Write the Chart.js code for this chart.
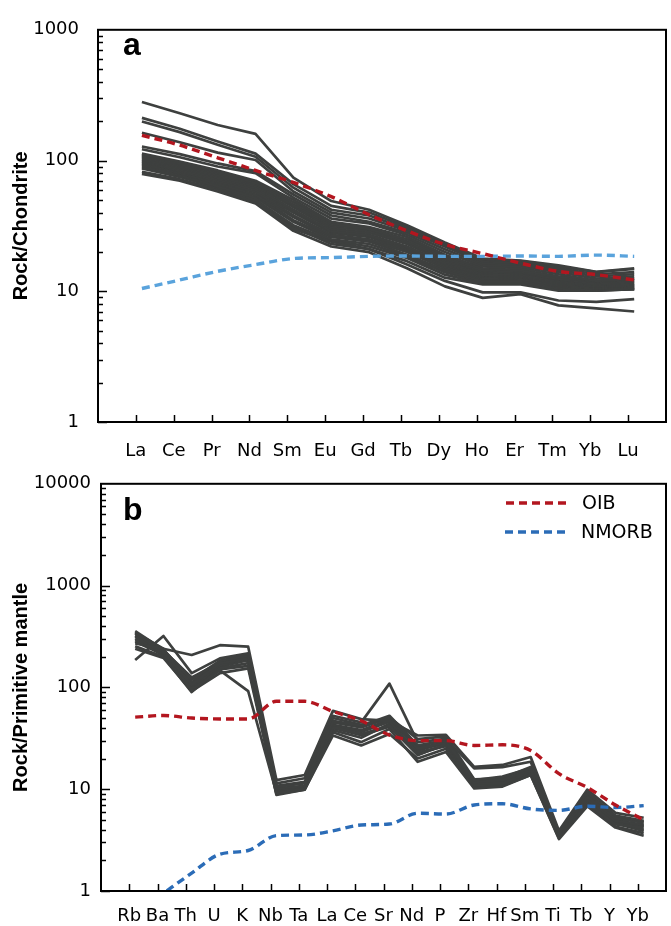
<!DOCTYPE html>
<html><head><meta charset="utf-8">
<script src="https://cdn.jsdelivr.net/npm/chart.js@4/dist/chart.umd.min.js"></script>
<style>
html,body{margin:0;padding:0;background:#fff;}
#wa{position:absolute;left:0;top:0;width:671px;height:463px;}
#wb{position:absolute;left:0;top:463px;width:671px;height:463px;}
</style></head><body>
<div id="wa"><canvas id="ca"></canvas></div>
<div id="wb"><canvas id="cb"></canvas></div>
<script>
// ---------- Panel a: chondrite-normalised REE ----------
const catsA = ['La','Ce','Pr','Nd','Sm','Eu','Gd','Tb','Dy','Ho','Er','Tm','Yb','Lu'];
const yTicksA = [1, 10, 100, 1000];
const oibA   = [156, 131, 105, 84, 68, 53, 38.5, 29, 22.8, 19.4, 16.4, 14.2, 13.4, 12.2];
const nmorbA = [10.5, 12.2, 14.2, 16.0, 17.8, 18.1, 18.5, 18.6, 18.5, 18.5, 18.6, 18.5, 18.9, 18.5];
const sa01 = [280, 230, 187, 160, 74, 49, 42, 32, 23.6, 17.8, 17.2, 15.8, 14.1, 15.0];
const sa02 = [212, 175, 140, 113, 66, 45, 40, 31, 23, 17.5, 17, 15.5, 14, 14.8];
const sa03 = [199, 165, 132, 107, 62, 42, 38, 30, 22.5, 17, 16.5, 15, 13.5, 14];
const sa04 = [163, 138, 115, 101, 58, 40, 36, 29, 22, 16.5, 16, 14.5, 13, 13.5];
const sa05 = [128, 112, 95, 83, 55, 38, 34, 28, 21, 16, 15.5, 14, 12.5, 13];
const sa06 = [122, 106, 90, 80, 52, 36, 33, 27, 20, 15.5, 15, 13.5, 12, 12.5];
const sa07 = [113, 98, 84, 70, 50, 34, 31, 26, 19, 15, 14.5, 13, 12, 12.5];
const sa08 = [111, 96, 82, 68, 48, 33, 30, 25, 18.5, 14.5, 14.2, 12.8, 11.8, 12.2];
const sa09 = [109, 94, 80, 67, 46, 32, 30, 24, 18, 14.2, 14, 12.5, 11.5, 12];
const sa10 = [107, 92, 78, 66, 45, 31, 29, 23.5, 17.5, 14, 13.8, 12.3, 11.3, 11.8];
const sa11 = [105, 90, 76, 64, 44, 30, 28, 23, 17, 13.7, 13.5, 12, 11.2, 11.5];
const sa12 = [103, 88, 74, 62, 42, 29, 27, 22, 16.5, 13.4, 13.2, 11.8, 11, 11.3];
const sa13 = [101, 86, 72, 60, 41, 28.5, 26.5, 21.5, 16.2, 13.2, 13, 11.6, 10.9, 11.1];
const sa14 = [99, 84, 70, 58, 40, 28, 26, 21, 15.8, 13, 12.8, 11.4, 10.8, 11];
const sa15 = [97, 83, 69, 57, 38, 27, 25, 20.5, 15.4, 12.7, 12.5, 11.2, 10.6, 10.8];
const sa16 = [95, 81, 67, 55, 37, 26.5, 24.5, 20, 15, 12.4, 12.3, 11, 10.5, 10.6];
const sa17 = [93, 80, 66, 54, 35, 26, 24, 19, 14.5, 12, 12, 10.8, 10.3, 10.5];
const sa18 = [91, 78, 64, 52, 34, 25, 23, 18.5, 14, 11.8, 11.8, 10.5, 10.2, 10.4];
const sa19 = [89, 77, 63, 50, 32, 24.5, 22, 18, 13.4, 11.5, 11.5, 10.3, 10.1, 10.4];
const sa20 = [87, 75, 62, 48, 30, 24, 21, 17, 12.7, 11.3, 11.3, 10.1, 10.1, 10.4];
const sa21 = [82, 72, 60, 48, 31, 23, 21, 16, 12, 9.8, 9.8, 8.5, 8.3, 8.7];
const sa22 = [79, 70, 58, 47, 29, 22, 19.9, 15, 10.9, 8.9, 9.5, 7.8, 7.4, 7.0];
const samplesA = [sa01,sa02,sa03,sa04,sa05,sa06,sa07,sa08,sa09,sa10,sa11,sa12,sa13,sa14,sa15,sa16,sa17,sa18,sa19,sa20,sa21,sa22];

// ---------- Panel b: primitive-mantle-normalised spider diagram ----------
const catsB = ['Rb','Ba','Th','U','K','Nb','Ta','La','Ce','Sr','Nd','P','Zr','Hf','Sm','Ti','Tb','Y','Yb'];
const yTicksB = [1, 10, 100, 1000, 10000];
const oibB   = [51, 53, 50, 49, 49, 73, 73, 58, 47, 34, 30, 30, 26.9, 27.3, 24, 14.2, 10.4, 7.0, 5.0];
const nmorbB = [0.6, 0.95, 1.5, 2.3, 2.5, 3.5, 3.55, 3.9, 4.45, 4.55, 5.8, 5.7, 7.0, 7.2, 6.4, 6.2, 6.8, 6.6, 6.9];
const sb01 = [270, 240, 208, 260, 251, 12.3, 13.8, 58.8, 48.8, 47, 33.7, 34.2, 16.6, 17.3, 20.7, 3.9, 9.9, 5.86, 5.24];
const sb02 = [186, 320, 138, 193, 216, 11.4, 12.8, 52.6, 45.3, 109, 29, 31.2, 16, 16.5, 18.6, 3.7, 9.3, 5.5, 4.9];
const sb03 = [358, 235, 119, 183, 205, 10.6, 11.4, 47, 42, 52.6, 27, 30, 12.3, 13.3, 16, 3.6, 8.4, 5.2, 4.7];
const sb04 = [337, 225, 106, 173, 193, 10.2, 10.8, 45.3, 40.5, 50, 25, 29, 11.8, 12.3, 15.3, 3.5, 8, 4.9, 4.5];
const sb05 = [313, 215, 95, 147, 92, 9.2, 10, 40.5, 34.9, 42, 21.6, 27.9, 11.4, 11.4, 14.9, 3.4, 7.3, 4.5, 4.2];
const sb06 = [254, 200, 90, 154, 173, 8.8, 9.9, 36.2, 29, 39, 18.6, 23.2, 10.2, 10.6, 13.8, 3.24, 6.8, 4.2, 3.49];
const sb07 = [300, 205, 100, 165, 195, 9.6, 10.3, 42, 36.5, 46, 23, 26.5, 11, 11.2, 14.5, 3.4, 7.6, 4.7, 4.0];
const sb08 = [290, 230, 125, 175, 200, 10.8, 11.8, 50, 43, 50.6, 31, 33, 12.5, 12.8, 16.5, 3.8, 8.8, 5.3, 4.8];
const sb09 = [240, 195, 92, 138, 154, 9.0, 9.9, 33.7, 26.9, 34.9, 20, 25, 10.5, 10.8, 13.8, 3.3, 7, 4.3, 3.7];
const sb10 = [325, 220, 112, 180, 210, 10, 10.6, 38, 32, 44, 24, 28.5, 11.6, 11.8, 15, 3.5, 7.8, 4.8, 4.3];
const sb11 = [280, 210, 98, 160, 185, 9.4, 10.2, 43, 38, 48, 26, 31, 12, 12, 15.8, 3.6, 8.2, 5.0, 4.4];
const sb12 = [345, 240, 100, 150, 163, 9.8, 10.4, 40, 34, 41, 22, 27, 10.8, 11, 14.2, 3.4, 7.2, 4.6, 3.9];
const samplesB = [sb01,sb02,sb03,sb04,sb05,sb06,sb07,sb08,sb09,sb10,sb11,sb12];

// ---------- styling ----------
const GRAY = '#3e403f';
const RED = '#b3161f';
const BLUE_A = '#5aa3dc';
const BLUE_B = '#2b6cb7';
// the original plots its lines slightly right of the tick marks (in category units)
const SHIFT_A = 0.16;
const SHIFT_B = 0.21;
Chart.defaults.font.family = '"DejaVu Sans", sans-serif';
Chart.defaults.color = '#000';

const toXY = (arr, sh) => arr.map((v, i) => ({x: i + 1 + sh, y: v}));

function grayDs(arr, sh) {
  return {data: toXY(arr, sh), borderColor: GRAY, borderWidth: 2.7, pointRadius: 0, tension: 0,
          borderJoinStyle: 'round', fill: false, order: 1};
}
function dashDs(label, arr, color, sh) {
  return {label, data: toXY(arr, sh), borderColor: color, borderWidth: 3.4, borderDash: [8, 5],
          pointRadius: 0, cubicInterpolationMode: 'monotone', fill: false, order: 0};
}

const framePlugin = {
  id: 'frame',
  afterDatasetsDraw(chart, args, opts) {
    const {ctx, chartArea: {left, top, right, bottom}, scales: {x, y}} = chart;
    ctx.save();
    ctx.strokeStyle = '#000';
    ctx.lineWidth = 2;
    ctx.strokeRect(left, top, right - left, bottom - top);
    ctx.lineWidth = 1.5;
    ctx.beginPath();
    opts.cats.forEach((c, i) => {
      const px = Math.round(x.getPixelForValue(i + 1)) + 0.5;
      ctx.moveTo(px, bottom); ctx.lineTo(px, bottom - 7);
    });
    for (let d = y.min; d < y.max; d *= 10) {
      for (let m = 1; m < 10; m++) {
        const py = Math.round(y.getPixelForValue(d * m)) + 0.5;
        ctx.moveTo(left, py); ctx.lineTo(left + (m === 1 ? 9 : 5), py);
      }
    }
    ctx.stroke();
    ctx.fillStyle = '#000';
    ctx.font = 'bold 32px "Liberation Sans", Arial, sans-serif';
    ctx.textBaseline = 'alphabetic';
    ctx.textAlign = 'left';
    ctx.fillText(opts.letter, opts.lx, opts.ly);
    if (opts.legend) {
      ctx.font = '19px "DejaVu Sans", sans-serif';
      ctx.textBaseline = 'middle';
      opts.legend.forEach(it => {
        ctx.strokeStyle = it.color; ctx.lineWidth = 3.6; ctx.setLineDash([8, 5]);
        ctx.beginPath(); ctx.moveTo(it.x0, it.y); ctx.lineTo(it.x1, it.y); ctx.stroke();
        ctx.setLineDash([]);
        ctx.fillStyle = '#000';
        ctx.fillText(it.text, it.tx, it.y + 1);
      });
    }
    ctx.restore();
  }
};

function makeChart(canvasId, cats, yTicks, yMax, ds, cfg) {
  return new Chart(document.getElementById(canvasId), {
    type: 'line',
    data: {datasets: ds},
    plugins: [framePlugin],
    options: {
      responsive: true, maintainAspectRatio: false, animation: false, devicePixelRatio: 1,
      layout: {padding: {left: 0, top: cfg.top, right: 5, bottom: 0}},
      plugins: {legend: {display: false}, tooltip: {enabled: false}, frame: cfg.frame},
      scales: {
        x: {
          type: 'linear', min: 0, max: cats.length + 1,
          afterBuildTicks: s => { s.ticks = cats.map((_, i) => ({value: i + 1})); },
          ticks: {autoSkip: false, maxRotation: 0, minRotation: 0, padding: cfg.xPad,
                  font: {size: 18}, color: '#000', callback: v => cats[v - 1] || ''},
          grid: {display: false, drawTicks: false},
          border: {display: false},
          afterFit: s => { s.height = cfg.xH; }
        },
        y: {
          type: 'logarithmic', min: 1, max: yMax,
          afterBuildTicks: s => { s.ticks = yTicks.map(v => ({value: v, major: true})); },
          ticks: {padding: cfg.yPad, font: {size: 18}, color: '#000', callback: v => String(v)},
          title: {display: true, text: cfg.title, color: '#000',
                  font: {family: '"Liberation Sans", Arial, sans-serif', size: 20, weight: 'bold'},
                  padding: {top: 9, bottom: 0}},
          grid: {display: false, drawTicks: false},
          border: {display: false},
          afterFit: s => { s.width = cfg.yW; }
        }
      }
    }
  });
}

const dsA = [dashDs('OIB', oibA, RED, SHIFT_A), dashDs('NMORB', nmorbA, BLUE_A, SHIFT_A)]
  .concat(samplesA.map(a => grayDs(a, SHIFT_A)));
makeChart('ca', catsA, yTicksA, 1000, dsA, {
  top: 17, xPad: 19, xH: 41, yPad: 19, yW: 98, title: 'Rock/Chondrite',
  frame: {cats: catsA, letter: 'a', lx: 123, ly: 55}
});

const dsB = [dashDs('OIB', oibB, RED, SHIFT_B), dashDs('NMORB', nmorbB, BLUE_B, SHIFT_B)]
  .concat(samplesB.map(a => grayDs(a, SHIFT_B)));
makeChart('cb', catsB, yTicksB, 10000, dsB, {
  top: 15, xPad: 15, xH: 35, yPad: 10, yW: 101, title: 'Rock/Primitive mantle',
  frame: {cats: catsB, letter: 'b', lx: 123, ly: 57,
          legend: [{text: 'OIB', color: RED, x0: 506, x1: 570, tx: 582, y: 40},
                   {text: 'NMORB', color: BLUE_B, x0: 505, x1: 569, tx: 581, y: 69}]}
});
</script>
</body></html>
